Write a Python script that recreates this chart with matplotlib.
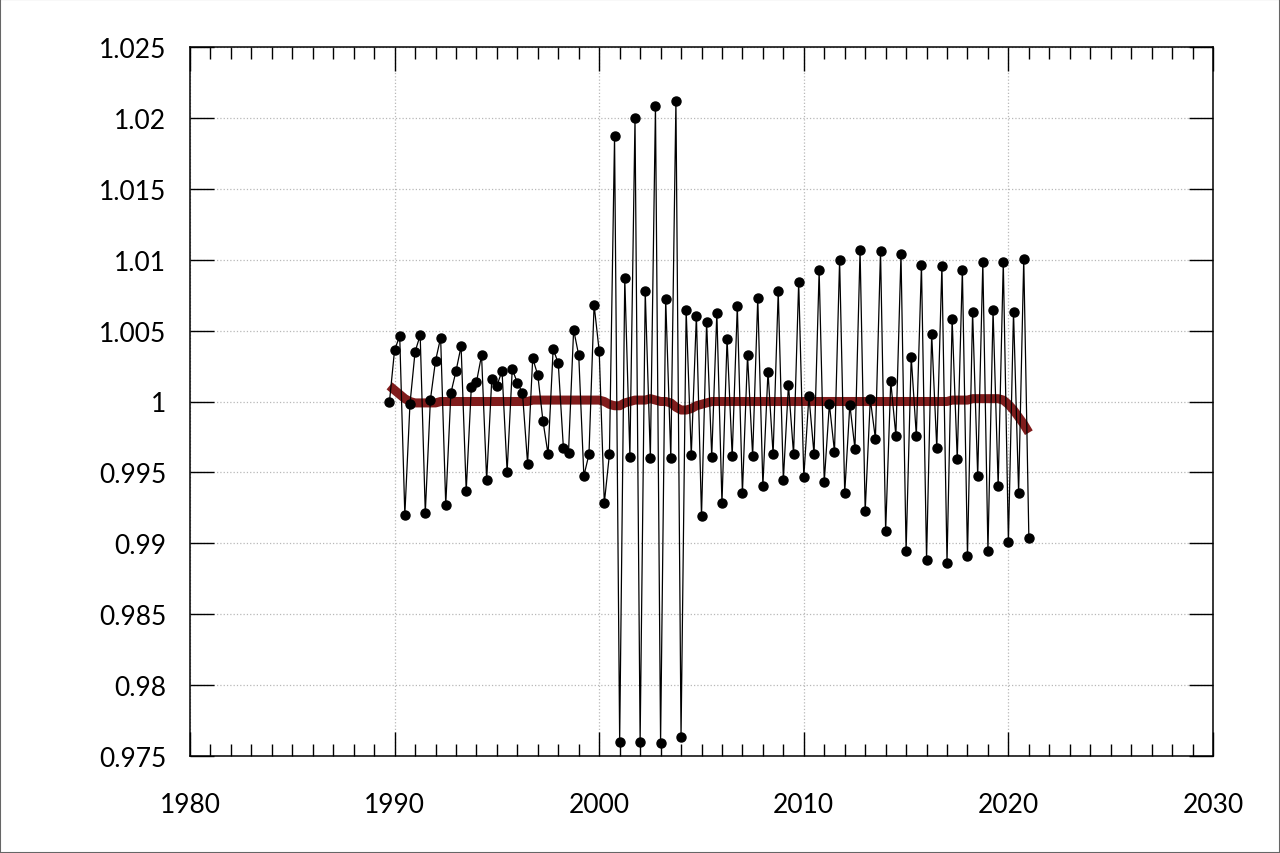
import numpy as np
import matplotlib.pyplot as plt
from matplotlib.ticker import MultipleLocator, FuncFormatter
from matplotlib.patches import Rectangle

plt.rcParams['font.family'] = ['Lato', 'DejaVu Sans']

# trimestres 1989T4 .. 2021T1
t = 1989.75 + 0.25 * np.arange(126)

ratio = [
    1.0000, 1.00365, 1.0046, 0.9920, 0.9998, 1.0035, 1.00468, 0.99215,
    1.00013, 1.00287, 1.0045, 0.9927, 1.00059, 1.00214, 1.0039, 0.9937,
    1.00102, 1.00136, 1.00326, 0.99445, 1.00159, 1.0011, 1.00217, 0.99506,
    1.00228, 1.00132, 1.00061, 0.99562, 1.00305, 1.00185, 0.99864, 0.99628,
    1.00372, 1.00268, 0.99673, 0.9964, 1.00506, 1.00326, 0.99475, 0.99628,
    1.00682, 1.00355, 0.99284, 0.99628, 1.01869, 0.97602, 1.00869, 0.99612,
    1.01997, 0.97602, 1.00777, 0.99603, 1.02086, 0.97593, 1.00725, 0.996,
    1.02119, 0.97633, 1.00645, 0.99621, 1.00606, 0.9919, 1.00563, 0.99612,
    1.00627, 0.99281, 1.00443, 0.99615, 1.00673, 0.99352, 1.00327, 0.99615,
    1.00731, 0.99404, 1.00211, 0.99627, 1.00777, 0.99446, 1.00119, 0.99627,
    1.00844, 0.99465, 1.0004, 0.99627, 1.00924, 0.99434, 0.99982, 0.99646,
    1.00998, 0.99355, 0.99978, 0.99667, 1.01068, 0.99226, 1.00018, 0.99738,
    1.01061, 0.99085, 1.00142, 0.99759, 1.0104, 0.98946, 1.00314, 0.99759,
    1.00962, 0.98885, 1.00478, 0.9967, 1.00958, 0.98864, 1.00582, 0.99592,
    1.00929, 0.98908, 1.00633, 0.99472, 1.00981, 0.98946, 1.00643, 0.99404,
    1.00984, 0.99007, 1.00633, 0.99355, 1.01005, 0.9904,
]

tendencia = [
    1.0011, 1.0008, 1.0005, 1.0002, 1.0000, 0.9999, 0.9999, 0.9999,
    0.9999, 0.9999, 1.0000, 1.0000, 1.0000, 1.0000, 1.0000, 1.0000,
    1.0000, 1.0000, 1.0000, 1.0000, 1.0000, 1.0000, 1.0000, 1.0000,
    1.0000, 1.0000, 1.0000, 1.0000, 1.0001, 1.0001, 1.0001, 1.0001,
    1.0001, 1.0001, 1.0001, 1.0001, 1.0001, 1.0001, 1.0001, 1.0001,
    1.0001, 1.0001, 1.0000, 0.9998, 0.9997, 0.9997, 0.9999, 1.0000,
    1.0001, 1.0001, 1.0001, 1.0002, 1.0001, 1.0000, 1.0000, 0.9999,
    0.9996, 0.9994, 0.9994, 0.9995, 0.9997, 0.9998, 0.9999, 1.0000,
    1.0000, 1.0000, 1.0000, 1.0000, 1.0000, 1.0000, 1.0000, 1.0000,
    1.0000, 1.0000, 1.0000, 1.0000, 1.0000, 1.0000, 1.0000, 1.0000,
    1.0000, 1.0000, 1.0000, 1.0000, 1.0000, 1.0000, 1.0000, 1.0000,
    1.0000, 1.0000, 1.0000, 1.0000, 1.0000, 1.0000, 1.0000, 1.0000,
    1.0000, 1.0000, 1.0000, 1.0000, 1.0000, 1.0000, 1.0000, 1.0000,
    1.0000, 1.0000, 1.0000, 1.0000, 1.0000, 1.0000, 1.0001, 1.0001,
    1.0001, 1.0001, 1.0002, 1.0002, 1.0002, 1.0002, 1.0002, 1.0002,
    1.0001, 0.9998, 0.9994, 0.9989, 0.9984, 0.9978,
]

fig = plt.figure(figsize=(12.8, 8.54), dpi=100)
ax = fig.add_axes([190 / 1280, 1 - 757 / 854, (1213 - 190) / 1280, (757 - 48) / 854])

ax.plot(t, tendencia, color='#801c1c', lw=6.5, solid_capstyle='butt', zorder=2)
ax.plot(t, ratio, color='black', lw=0.9, marker='o', ms=6.5, zorder=3)

ax.set_xlim(1980, 2030)
ax.set_ylim(0.975, 1.025)
ax.xaxis.set_major_locator(MultipleLocator(10))
ax.xaxis.set_minor_locator(MultipleLocator(1))
ax.yaxis.set_major_locator(MultipleLocator(0.005))
ax.yaxis.set_major_formatter(FuncFormatter(lambda v, p: ('%.3f' % v).rstrip('0').rstrip('.')))

ax.tick_params(which='both', direction='in', top=True, right=True, labelsize=19, width=1)
ax.tick_params(which='major', length=17)
ax.tick_params(which='minor', length=8.5)
ax.tick_params(axis='x', pad=26)
ax.tick_params(axis='y', pad=17)
ax.grid(True, which='major', color='#b8b8b8', linestyle=':', lw=0.9)
for s in ax.spines.values():
    s.set_linewidth(1.1)

fig.patches.append(Rectangle((0, 0), 1, 1, transform=fig.transFigure, fill=False,
                             edgecolor='#666666', lw=1.5))

fig.savefig('out.png', dpi=100)
